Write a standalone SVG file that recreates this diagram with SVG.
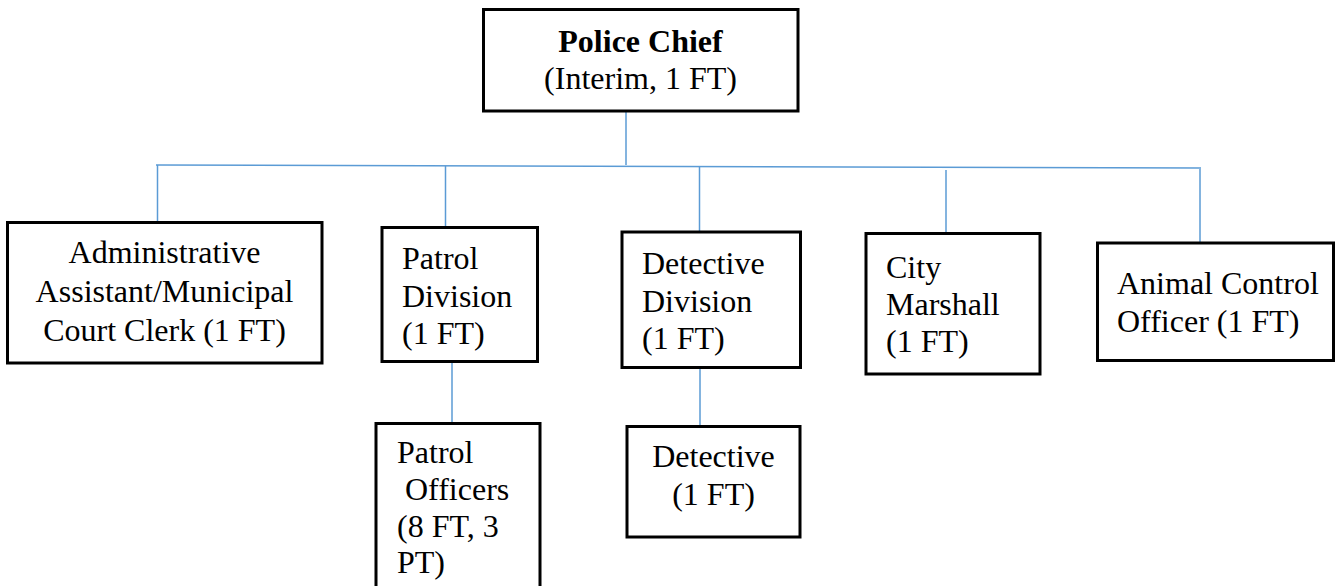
<svg xmlns="http://www.w3.org/2000/svg" width="1336" height="586" viewBox="0 0 1336 586">
<style>
.box{fill:#fff;stroke:#000;stroke-width:3}
.t{font-family:"Liberation Serif","Times New Roman",serif;font-size:32px;fill:#000}
.b{font-weight:bold}
.c{text-anchor:middle}
.ln{stroke:#5B9BD5;stroke-width:1.5;fill:none}
</style>
<rect width="1336" height="586" fill="#fff"/>
<g id="connectors">
<line class="ln" x1="626" y1="111" x2="626" y2="165"/>
<line class="ln" x1="156" y1="165" x2="1201" y2="168"/>
<line class="ln" x1="157.5" y1="165" x2="157.5" y2="222"/>
<line class="ln" x1="445.5" y1="166" x2="445.5" y2="228"/>
<line class="ln" x1="699.5" y1="167" x2="699.5" y2="232"/>
<line class="ln" x1="946" y1="170" x2="946" y2="233"/>
<line class="ln" x1="1200" y1="169" x2="1200" y2="243"/>
<line class="ln" x1="452" y1="362" x2="452" y2="423"/>
<line class="ln" x1="700" y1="368" x2="700" y2="427"/>
</g>
<g id="chief">
<rect class="box" x="483.5" y="9.5" width="314.5" height="101.5"/>
<text class="t b c" x="640.5" y="52">Police Chief</text>
<text class="t c" x="640.5" y="89">(Interim, 1 FT)</text>
</g>
<g id="admin">
<rect class="box" x="7.5" y="222.5" width="314.5" height="140.5"/>
<text class="t c" x="164.5" y="263">Administrative</text>
<text class="t c" x="164.5" y="302">Assistant/Municipal</text>
<text class="t c" x="164.5" y="340.5">Court Clerk (1 FT)</text>
</g>
<g id="patrol-division">
<rect class="box" x="382" y="227.5" width="155.5" height="134"/>
<text class="t" x="402" y="269">Patrol</text>
<text class="t" x="402" y="306.5">Division</text>
<text class="t" x="402" y="344">(1 FT)</text>
</g>
<g id="detective-division">
<rect class="box" x="622" y="232" width="178.5" height="135.5"/>
<text class="t" x="642" y="274">Detective</text>
<text class="t" x="642" y="311.5">Division</text>
<text class="t" x="642" y="349">(1 FT)</text>
</g>
<g id="city-marshall">
<rect class="box" x="866" y="233.5" width="174" height="140.5"/>
<text class="t" x="886" y="278">City</text>
<text class="t" x="886" y="315">Marshall</text>
<text class="t" x="886" y="352">(1 FT)</text>
</g>
<g id="animal-control">
<rect class="box" x="1097.5" y="243" width="236" height="117.5"/>
<text class="t" x="1117" y="294">Animal Control</text>
<text class="t" x="1117" y="331.5">Officer (1 FT)</text>
</g>
<g id="patrol-officers">
<rect class="box" x="376" y="423.5" width="164" height="170"/>
<text class="t" x="397" y="463">Patrol</text>
<text class="t" x="397" y="500" xml:space="preserve"> Officers</text>
<text class="t" x="397" y="537">(8 FT, 3</text>
<text class="t" x="397" y="573">PT)</text>
</g>
<g id="detective">
<rect class="box" x="627" y="426.5" width="173" height="110.5"/>
<text class="t c" x="713.5" y="466.5">Detective</text>
<text class="t c" x="713.5" y="505">(1 FT)</text>
</g>
</svg>
